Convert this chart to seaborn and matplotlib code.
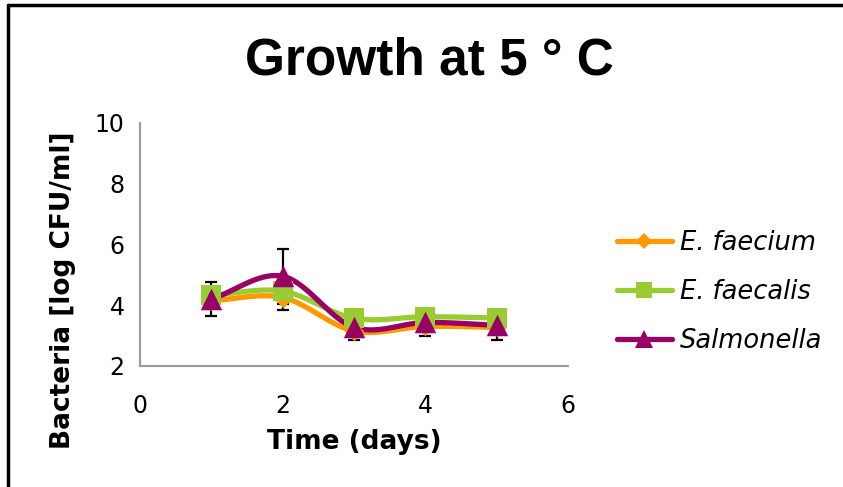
import numpy as np
import pandas as pd
import matplotlib
matplotlib.use("Agg")
import matplotlib.pyplot as plt
from matplotlib.lines import Line2D
import seaborn as sns

# Measurements (log CFU/ml) over storage days at 5 °C
days = [1, 2, 3, 4, 5]
e_faecium = [4.15, 4.25, 3.15, 3.30, 3.27]
e_faecium_err = [0.0, 0.40, 0.30, 0.33, 0.40]
e_faecalis = [4.32, 4.46, 3.57, 3.62, 3.58]
e_faecalis_err = [0.0, 0.0, 0.0, 0.0, 0.0]
salmonella = [4.20, 4.95, 3.27, 3.43, 3.34]
salmonella_err = [0.55, 0.90, 0.0, 0.0, 0.0]

series_names = ["E. faecium", "E. faecalis", "Salmonella"]
series_colors = ["#FF9900", "#99CC33", "#990066"]
series_markers = ["D", "s", "^"]
series_msizes = [10, 14.5, 15.5]

x_ticks = [0, 2, 4, 6]
y_ticks = [2, 4, 6, 8, 10]

df = pd.DataFrame({
    "day": days * 3,
    "value": e_faecium + e_faecalis + salmonella,
    "err": e_faecium_err + e_faecalis_err + salmonella_err,
    "series": sum([[n] * len(days) for n in series_names], []),
})


def smooth_curve(x, y, n=30):
    """Catmull-Rom curve through the points, like a spreadsheet 'smoothed line'."""
    x = np.asarray(x, float)
    y = np.asarray(y, float)
    px = np.concatenate([[2 * x[0] - x[1]], x, [2 * x[-1] - x[-2]]])
    py = np.concatenate([[2 * y[0] - y[1]], y, [2 * y[-1] - y[-2]]])
    xs, ys = [], []
    t = np.linspace(0, 1, n)
    for i in range(1, len(px) - 2):
        for arr, out in ((px, xs), (py, ys)):
            p0, p1, p2, p3 = arr[i - 1], arr[i], arr[i + 1], arr[i + 2]
            seg = 0.5 * ((2 * p1) + (-p0 + p2) * t
                         + (2 * p0 - 5 * p1 + 4 * p2 - p3) * t ** 2
                         + (-p0 + 3 * p1 - 3 * p2 + p3) * t ** 3)
            out.extend(seg if i == 1 else seg[1:])
    return np.array(xs), np.array(ys)


sns.set_style("white")
plt.rcParams["font.family"] = ["DejaVu Sans"]
plt.rcParams["text.color"] = "black"
plt.rcParams["axes.labelcolor"] = "black"

fig = plt.figure(figsize=(8.43, 4.87), dpi=100)
ax = fig.add_axes([0.166, 0.2485, 0.508, 0.4995])

for name, color, marker, ms in zip(series_names, series_colors, series_markers, series_msizes):
    sub = df[df["series"] == name]
    sx, sy = smooth_curve(sub["day"], sub["value"])
    ax.errorbar(sub["day"], sub["value"], yerr=sub["err"], fmt="none",
                ecolor="black", elinewidth=1.6, capsize=4.5, capthick=1.6, zorder=2)
    ax.plot(sx, sy, color=color, lw=3.8, solid_capstyle="round", zorder=3)
    sns.scatterplot(x=sub["day"], y=sub["value"], ax=ax, color=color,
                    marker=marker, s=ms ** 2, linewidth=0, zorder=4, legend=False)

ax.set_xlim(0, 6)
ax.set_ylim(2, 10)
ax.set_xticks(x_ticks)
ax.set_yticks(y_ticks)
ax.tick_params(axis="both", length=0, labelsize=17, colors="black")
ax.tick_params(axis="x", pad=20)
ax.tick_params(axis="y", pad=11)
for s in ["top", "right"]:
    ax.spines[s].set_visible(False)
for s in ["left", "bottom"]:
    ax.spines[s].set_color("#9a9a9a")
    ax.spines[s].set_linewidth(1.5)

ax.set_xlabel("Time (days)", fontsize=19, fontweight="bold", labelpad=8)
ax.set_ylabel("Bacteria [log CFU/ml]", fontsize=19, fontweight="bold")
ax.yaxis.set_label_coords(-0.150, 0.31)

fig.text(0.509, 0.874, "Growth at 5 ° C", ha="center", va="center",
         fontsize=37, fontweight="bold", family=["Liberation Sans", "DejaVu Sans"])

handles = [Line2D([0], [0], color=c, lw=3.8, marker=m, markersize=ms * 0.8, markeredgewidth=0)
           for c, m, ms in zip(series_colors, series_markers, series_msizes)]
leg = fig.legend(handles, series_names, loc="center left", bbox_to_anchor=(0.7197, 0.401),
                 frameon=False, handlelength=2.14, handletextpad=0.31, labelspacing=0.9,
                 borderaxespad=0, prop={"size": 18.5, "style": "italic"})

# chart-area frame (left and top edges visible)
fig.add_artist(Line2D([0.0095, 0.0095], [0.0, 0.99], transform=fig.transFigure, color="black", lw=2.5))
fig.add_artist(Line2D([0.0095, 1.0], [0.99, 0.99], transform=fig.transFigure, color="black", lw=2.5))

fig.savefig("out.png", dpi=100)
